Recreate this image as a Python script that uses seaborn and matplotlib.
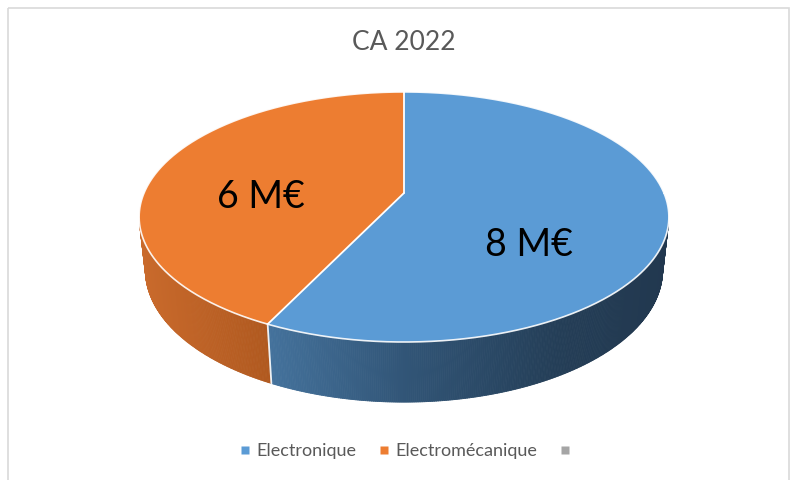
import numpy as np
import matplotlib
matplotlib.use("Agg")
import matplotlib.pyplot as plt
import seaborn as sns
from matplotlib.patches import Polygon, Rectangle
from matplotlib.collections import PolyCollection
from matplotlib.lines import Line2D
from matplotlib.colors import to_rgb

# ---- data ----
categories = ["Electronique", "Electromécanique", ""]
values = [8, 6, 0]
value_labels = ["8 M€", "6 M€", ""]
title = "CA 2022"

sns.set_theme(style="white")
plt.rcParams['font.family'] = ['Lato', 'DejaVu Sans']
palette = sns.color_palette(["#5b9bd5", "#ed7d31", "#a5a5a5"])

# side wall gradients (screen x -> colour)
wall_grad = [
    [(268, "#44729c"), (400, "#325678"), (560, "#243e57"), (670, "#22384f")],
    [(140, "#c96a2c"), (268, "#b0591f")],
    [(0, "#888888"), (800, "#777777")],
]
label_offsets = [(-12, 37), (-12, 18), (0, 0)]

# ---- 3D perspective geometry (style) ----
HUB = (404, 193)
F, D = 1201.0, 4.62
ALPHA = np.radians(27.6)
H = 0.232


def proj(u, v, z=0.0):
    depth = D - v * np.cos(ALPHA) - z * np.sin(ALPHA)
    X = HUB[0] + F * u / depth
    Y = HUB[1] + F * (v * np.sin(ALPHA) - z * np.cos(ALPHA)) / depth
    return X, Y


def grad_color(stops, x):
    xs = [s[0] for s in stops]
    cs = np.array([to_rgb(s[1]) for s in stops])
    return tuple(np.interp(x, xs, cs[:, i]) for i in range(3))


fig = plt.figure(figsize=(7.96, 4.8), dpi=100)
ax = fig.add_axes([0, 0, 1, 1])
ax.set_xlim(0, 796)
ax.set_ylim(480, 0)
ax.axis("off")

# chart frame
ax.add_patch(Rectangle((7.5, 7.5), 781, 480, fill=False, edgecolor="#d9d9d9", lw=1.2))

total = float(sum(values))
starts, ends = [], []
a = -90.0
for v in values:
    starts.append(a)
    a = a + 360.0 * v / total
    ends.append(a)


def slice_of(phi):
    for i, (s, e) in enumerate(zip(starts, ends)):
        if values[i] == 0:
            continue
        p = (phi - s) % 360.0
        if p < (e - s) - 1e-9:
            return i
    return 0

# ---- side wall (visible part only) ----
lim = np.degrees(np.arcsin(1.0 / (D * np.cos(ALPHA))))
phis = np.linspace(lim, 180.0 - lim, 420)
quads, cols = [], []
for p0, p1 in zip(phis[:-1], phis[1:]):
    r0, r1 = np.radians(p0), np.radians(p1)
    t0 = proj(np.cos(r0), np.sin(r0))
    t1 = proj(np.cos(r1), np.sin(r1))
    b0 = proj(np.cos(r0), np.sin(r0), -H)
    b1 = proj(np.cos(r1), np.sin(r1), -H)
    pm = 0.5 * (p0 + p1)
    i = slice_of(pm)
    xm = 0.5 * (t0[0] + t1[0])
    quads.append([t0, t1, b1, b0])
    cols.append(grad_color(wall_grad[i], xm))
pc = PolyCollection(quads, facecolors=cols, edgecolors=cols, linewidths=0.6)
ax.add_collection(pc)

# wall dividers
for s in starts:
    r = np.radians(s)
    if np.sin(r) > 0.25:
        t = proj(np.cos(r), np.sin(r))
        b = proj(np.cos(r), np.sin(r), -H)
        ax.plot([t[0], b[0]], [t[1], b[1]], color="white", lw=1.3, alpha=0.9)

# ---- top face ----
for i, v in enumerate(values):
    if v == 0:
        continue
    ph = np.radians(np.linspace(starts[i], ends[i], 300))
    xs, ys = proj(np.cos(ph), np.sin(ph))
    pts = [HUB] + list(zip(xs, ys))
    ax.add_patch(Polygon(pts, closed=True, facecolor=palette[i], edgecolor="none"))

# rim highlight
ph = np.radians(np.linspace(0, 360, 720))
xs, ys = proj(np.cos(ph), np.sin(ph))
ax.plot(xs, ys, color="white", lw=1.2, alpha=0.9)

# top dividers
for i, s in enumerate(starts):
    if values[i] == 0:
        continue
    r = np.radians(s)
    t = proj(np.cos(r), np.sin(r))
    ax.plot([HUB[0], t[0]], [HUB[1], t[1]], color="white", lw=1.3)

# ---- data labels ----
for i, v in enumerate(values):
    if v == 0:
        continue
    mid = np.radians(0.5 * (starts[i] + ends[i]))
    x, y = proj(0.53 * np.cos(mid), 0.53 * np.sin(mid))
    dx, dy = label_offsets[i]
    ax.text(x + dx, y + dy, value_labels[i], ha="center", va="center",
            fontsize=27, color="black")

# ---- title ----
ax.text(404, 43, title, ha="center", va="center", fontsize=19, color="#595959")

# ---- legend ----
handles = [Line2D([], [], marker="s", linestyle="none", markersize=5.5,
                  markerfacecolor=palette[i], markeredgecolor="none")
           for i in range(len(categories))]
leg = fig.legend(handles, categories, loc="center", ncol=3,
                 bbox_to_anchor=(408 / 796, 1 - 451 / 480), frameon=False,
                 fontsize=13.0, handlelength=0.55, handletextpad=0.35,
                 columnspacing=1.25, labelcolor="#595959")

fig.savefig("out.png", dpi=100)
